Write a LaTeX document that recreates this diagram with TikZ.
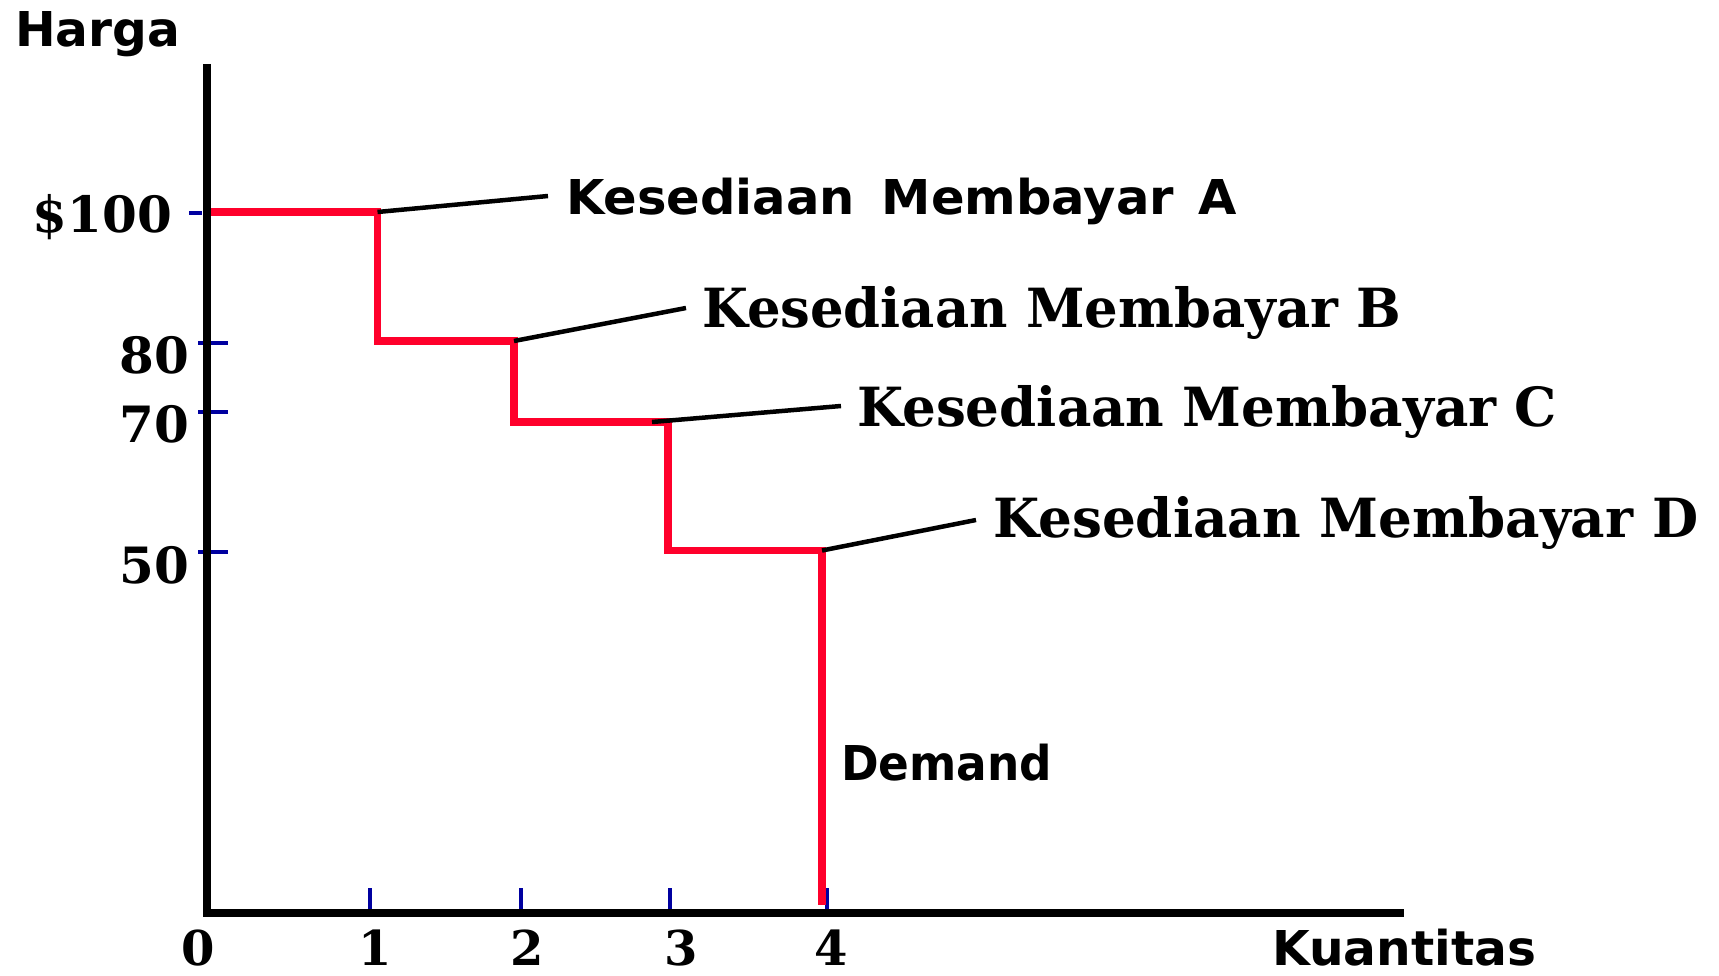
\documentclass[tikz,border=0pt]{standalone}
\usepackage{fontspec}
\usepackage{graphicx}
\newfontfamily\sansf{DejaVu Sans}
\newfontfamily\seriff{DejaVu Serif}
\definecolor{stepred}{RGB}{255,0,43}
\definecolor{tickblue}{RGB}{0,0,160}
\newcommand\fitw[2]{\resizebox{#1}{\height}{#2}}
\begin{document}
\begin{tikzpicture}[x=1pt,y=-1pt,
  sanslab/.style={inner sep=0pt, font=\sansf\bfseries\fontsize{48}{56}\selectfont},
  seriflab/.style={inner sep=0pt, font=\seriff\bfseries\fontsize{54}{62}\selectfont},
  numlab/.style={inner sep=0pt, font=\seriff\bfseries\fontsize{50}{58}\selectfont},
  xnumlab/.style={inner sep=0pt, font=\seriff\bfseries\fontsize{48}{56}\selectfont},
  axisline/.style={line width=8pt, black, line join=miter},
  stepline/.style={line width=7.5pt, stepred, line join=miter},
  leader/.style={line width=4.5pt, black},
  tickmark/.style={line width=4pt, tickblue}]

\fill[white] (0,0) rectangle (1719,976);
\useasboundingbox (0,0) rectangle (1719,976);

% corners of the step curve
\coordinate (s0) at (206,212);
\coordinate (s1) at (377.5,212);
\coordinate (s2) at (377.5,341);
\coordinate (s3) at (514,341);
\coordinate (s4) at (514,422);
\coordinate (s5) at (668,422);
\coordinate (s6) at (668,550.5);
\coordinate (s7) at (822,550.5);
\coordinate (s8) at (822,905);
\coordinate (cC) at (652,422);

% leader ends
\coordinate (eA) at (548,196);
\coordinate (eB) at (686,308);
\coordinate (eC) at (841,406);
\coordinate (eD) at (976,520);

% axes
\coordinate (ytop) at (206.5,64);
\coordinate (orig) at (206.5,913);
\coordinate (xend) at (1404,913);

% ticks
\draw[tickmark] (189,213) -- (202,213);
\draw[tickmark] (198,343) -- (228,343);
\draw[tickmark] (198,412) -- (228,412);
\draw[tickmark] (198,552) -- (228,552);
\draw[tickmark] (370,888) -- (370,909);
\draw[tickmark] (521,888) -- (521,909);
\draw[tickmark] (670,888) -- (670,909);
\draw[tickmark] (827,888) -- (827,909);

% step (demand) curve
\draw[stepline] (s0) -- (s1) -- (s2) -- (s3) -- (s4) -- (s5) -- (s6) -- (s7) -- (s8);

% axes on top
\draw[axisline] (ytop) -- (orig) -- (xend);

% leaders
\draw[leader] (s1) -- (eA);
\draw[leader] (s3) -- (eB);
\draw[leader] (cC) -- (eC);
\draw[leader] (s7) -- (eD);

% axis titles
\node[sanslab, anchor=base west] (harga) at (15,47) {\fitw{165pt}{Harga}};
\node[sanslab, anchor=base west] (kuan) at (1272,965) {\fitw{264pt}{Kuantitas}};
\node[sanslab, anchor=base west] (demand) at (841,780) {\fitw{211pt}{Demand}};

% labels
\node[sanslab, anchor=base west] (labA) at (566,215) {\fitw{671pt}{Kesediaan\hspace{26pt}Membayar\hspace{24pt}A}};
\node[seriflab, anchor=base west] (labB) at (702,328) {\fitw{699pt}{Kesediaan Membayar B}};
\node[seriflab, anchor=base west] (labC) at (857,426) {\fitw{700pt}{Kesediaan Membayar C}};
\node[seriflab, anchor=base west] (labD) at (993,537) {\fitw{705pt}{Kesediaan Membayar D}};

% y numbers
\node[numlab, anchor=base east] (y100) at (172,233) {\$100};
\node[numlab, anchor=base east] (y80) at (189,373) {80};
\node[numlab, anchor=base east] (y70) at (189,442) {70};
\node[numlab, anchor=base east] (y50) at (189,583) {50};

% x numbers
\node[xnumlab, anchor=base] (x0) at (198,965) {0};
\node[xnumlab, anchor=base] (x1) at (375,965) {1};
\node[xnumlab, anchor=base] (x2) at (527.5,965) {2};
\node[xnumlab, anchor=base] (x3) at (681,965) {3};
\node[xnumlab, anchor=base] (x4) at (831,965) {4};
\end{tikzpicture}
\end{document}
